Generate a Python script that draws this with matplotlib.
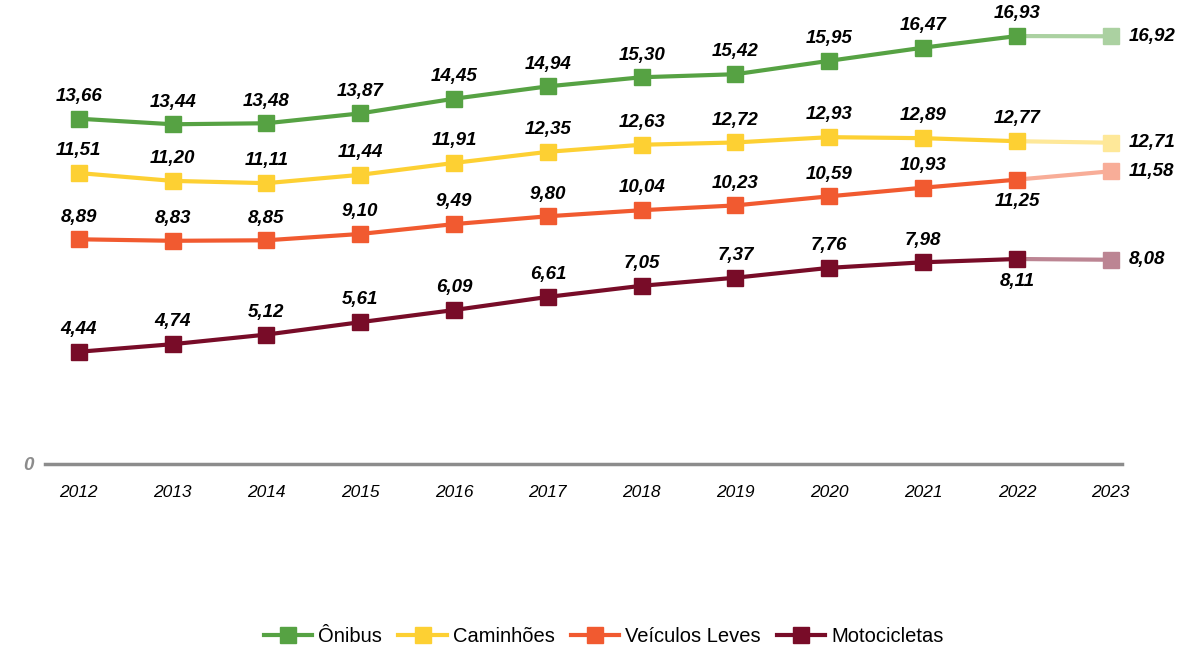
import matplotlib.pyplot as plt
import matplotlib.colors as mcolors

plt.rcParams['font.family'] = ['Liberation Sans', 'DejaVu Sans']

years = [2012, 2013, 2014, 2015, 2016, 2017, 2018, 2019, 2020, 2021, 2022, 2023]
onibus = [13.66, 13.44, 13.48, 13.87, 14.45, 14.94, 15.30, 15.42, 15.95, 16.47, 16.93, 16.92]
caminhoes = [11.51, 11.20, 11.11, 11.44, 11.91, 12.35, 12.63, 12.72, 12.93, 12.89, 12.77, 12.71]
veiculos_leves = [8.89, 8.83, 8.85, 9.10, 9.49, 9.80, 10.04, 10.23, 10.59, 10.93, 11.25, 11.58]
motocicletas = [4.44, 4.74, 5.12, 5.61, 6.09, 6.61, 7.05, 7.37, 7.76, 7.98, 8.11, 8.08]

series = [
    ("Ônibus", onibus, "#56A243"),
    ("Caminhões", caminhoes, "#FDD033"),
    ("Veículos Leves", veiculos_leves, "#F15A30"),
    ("Motocicletas", motocicletas, "#780C28"),
]
# labels drawn below the point (series name, year)
below = {("Veículos Leves", 2022), ("Motocicletas", 2022)}


def fade(color, amt=0.5):
    r, g, b = mcolors.to_rgb(color)
    return (r + (1 - r) * amt, g + (1 - g) * amt, b + (1 - b) * amt)


def fmt(v):
    return f"{v:.2f}".replace(".", ",")


fig = plt.figure(figsize=(11.84, 6.48), dpi=100)
ax = fig.add_axes([45 / 1184, 1 - 464 / 648, (1122 - 45) / 1184, 455 / 648])

lbl = dict(fontsize=13.5, fontweight="bold", fontstyle="italic")
for name, vals, col in series:
    light = fade(col)
    ax.plot(years[-2:], vals[-2:], color=light, lw=3, zorder=2)
    ax.plot(years[-1], vals[-1], "s", color=light, ms=11, zorder=3)
    ax.plot(years[:-1], vals[:-1], color=col, lw=3, marker="s", ms=11, zorder=4,
            label=name)
    for x, v in zip(years, vals):
        if x == years[-1]:
            ax.annotate(fmt(v), (x, v), xytext=(13, 0), textcoords="offset points",
                        ha="left", va="center", **lbl)
        elif (name, x) in below:
            ax.annotate(fmt(v), (x, v), xytext=(0, -16), textcoords="offset points",
                        ha="center", va="center", **lbl)
        else:
            ax.annotate(fmt(v), (x, v), xytext=(0, 16), textcoords="offset points",
                        ha="center", va="center", **lbl)

ax.set_xlim(2011.64, 2023.12)
ax.set_ylim(0, 18)
for s in ["top", "right", "left"]:
    ax.spines[s].set_visible(False)
ax.spines["bottom"].set_color("#8c8c8c")
ax.spines["bottom"].set_linewidth(2.5)
ax.set_yticks([0])
ax.set_yticklabels(["0"], fontsize=13.5, fontweight="bold", fontstyle="italic",
                   color="#8c8c8c")
ax.tick_params(axis="y", length=0, pad=8)
ax.set_xticks(years)
ax.set_xticklabels([str(y) for y in years], fontsize=12.5, fontstyle="italic")
ax.tick_params(axis="x", length=0, pad=15)

fig.legend(loc="lower center", bbox_to_anchor=(0.51, -0.018), ncol=4, frameon=False,
           fontsize=14.5, handlelength=2.4, columnspacing=0.8, handletextpad=0.3,
           borderaxespad=0.3)

fig.savefig("out.png", dpi=100)
